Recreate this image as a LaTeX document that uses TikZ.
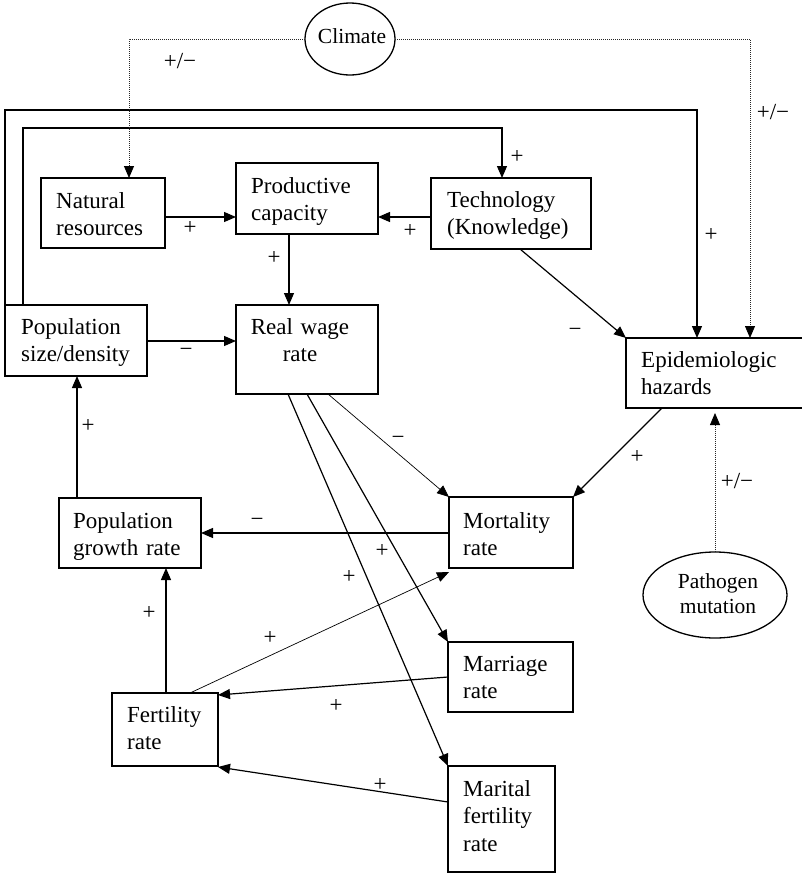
\documentclass[tikz,border=0pt]{standalone}
\usepackage{fontspec}
\setmainfont{Liberation Serif}
\usetikzlibrary{arrows.meta,calc,shapes.geometric}
\begin{document}
\begin{tikzpicture}[x=1pt,y=-1pt,
  box/.style={draw, line width=1.3pt, inner sep=0pt, outer sep=0pt, anchor=north west},
  txt/.style={inner sep=0pt, anchor=base west, align=left, text width=160pt, font=\fontsize{23}{27.5}\selectfont},
  lab/.style={inner sep=0pt, font=\fontsize{23}{27.5}\selectfont},
  arr/.style={line width=1.2pt, -{Triangle[length=12pt,width=10pt]}},
  thinarr/.style={line width=0.7pt, -{Triangle[length=12pt,width=10pt]}},
  dotarr/.style={line width=0.8pt, black!85, dash pattern=on 0.8pt off 1.2pt, -{Triangle[length=12pt,width=10pt,color=black]}},
  ell/.style={draw, ellipse, line width=1.3pt, inner sep=0pt, outer sep=0pt}
]
\useasboundingbox (0,0) rectangle (801,876);

% boxes
\node[box, minimum width=124pt, minimum height=70pt] (nr) at (41,178) {};
\node[box, minimum width=142pt, minimum height=71pt] (pc) at (236,163) {};
\node[box, minimum width=160pt, minimum height=71pt] (tech) at (431,178) {};
\node[box, minimum width=142pt, minimum height=71pt] (pop) at (5,305) {};
\node[box, minimum width=142pt, minimum height=89pt] (rw) at (236,305) {};
\node[box, minimum width=190pt, minimum height=70pt] (epi) at (626,338) {};
\node[box, minimum width=124pt, minimum height=71pt] (mort) at (449,497) {};
\node[box, minimum width=142pt, minimum height=70pt] (pg) at (59,498) {};
\node[box, minimum width=125pt, minimum height=70pt] (marr) at (448,642) {};
\node[box, minimum width=107pt, minimum height=106pt] (mar) at (448,766) {};
\node[box, minimum width=106pt, minimum height=73pt] (fert) at (112,693) {};
\node[ell, minimum width=90pt, minimum height=72pt] (clim) at (350,39) {};
\node[ell, minimum width=144pt, minimum height=86pt] (path) at (715,595) {};

% texts
\node[txt] (nr-t) at ($(nr.north west)+(15,30)$) {Natural\\resources};
\node[txt] (pc-t) at ($(pc.north west)+(15,30)$) {Productive\\capacity};
\node[txt] (tech-t) at ($(tech.north west)+(16,29)$) {Technology\\(Knowledge)};
\node[txt] (pop-t) at ($(pop.north west)+(16,29)$) {Population\\size/density};
\node[txt, anchor=base, align=center, text width=120pt] (rw-t) at ($(rw.north west)+(64,29)$) {Real wage\\rate};
\node[txt] (epi-t) at ($(epi.north west)+(15,29)$) {Epidemiologic\\hazards};
\node[txt] (mort-t) at ($(mort.north west)+(14,31)$) {Mortality\\rate};
\node[txt] (pg-t) at ($(pg.north west)+(14,30)$) {Population\\growth rate};
\node[txt] (marr-t) at ($(marr.north west)+(15,29)$) {Marriage\\rate};
\node[txt] (mar-t) at ($(mar.north west)+(15,30)$) {Marital\\fertility\\rate};
\node[txt] (fert-t) at ($(fert.north west)+(15,29)$) {Fertility\\rate};
\node[lab, anchor=base, font=\fontsize{21.5}{25}\selectfont] (clim-t) at ($(clim.center)+(2,4)$) {Climate};
\node[txt, anchor=base, align=center, text width=110pt, font=\fontsize{21.5}{25}\selectfont] (path-t) at ($(path.center)+(3,-7)$) {Pathogen\\mutation};

% connectors
\draw[arr] ($(nr.north east)+(0,39)$) -- ($(pc.north west)+(0,54)$);
\draw[arr] ($(tech.north west)+(0,39)$) -- ($(pc.north east)+(0,54)$);
\draw[arr] ($(pc.south west)+(53,0)$) -- ($(rw.north west)+(53,0)$);
\draw[arr] ($(pop.north east)+(0,36)$) -- ($(rw.north west)+(0,36)$);
\draw[arr] ($(tech.south west)+(89,0)$) -- (epi.north west);
\draw[arr] ($(epi.south west)+(36,0)$) -- (mort.north east);
\draw[dotarr] (path.north) -- ($(path.north |- epi.south)+(0,5)$);
\draw[thinarr] ($(rw.south west)+(92,0)$) -- (mort.north west);
\draw[arr] ($(rw.south west)+(71,0)$) -- (marr.north west);
\draw[arr] ($(rw.south west)+(52,0)$) -- (mar.north west);
\draw[arr] ($(mort.north west)+(0,36)$) -- ($(pg.north east)+(0,35)$);
\draw[arr] ($(pg.north west)+(18,0)$) -- ($(pop.south west)+(72,0)$);
\draw[arr] ($(fert.north west)+(54,0)$) -- ($(pg.south west)+(107,0)$);
\draw[thinarr] ($(fert.north west)+(78,0)$) -- ($(mort.south west)+(0,4)$);
\draw[arr] ($(marr.north west)+(0,35)$) -- ($(fert.north east)+(0,2)$);
\draw[arr] ($(mar.north west)+(0,36)$) -- ($(fert.south east)+(0,1)$);
\draw[arr] (pop.north west) -- ++(0,-195) -| ($(epi.north west)+(71,0)$);
\draw[arr] ($(pop.north west)+(18,0)$) -- ++(0,-177) -| ($(tech.north west)+(71,0)$);
\draw[dotarr] (clim.west) -| ($(nr.north west)+(88,0)$);
\draw[dotarr] (clim.east) -| ($(epi.north west)+(124,0)$);

% labels
\node[lab] (l1) at (180,61) {+/−};
\node[lab] (l2) at (773,112) {+/−};
\node[lab] (l3) at (517,157) {+};
\node[lab] (l4) at (711,235) {+};
\node[lab] (l5) at (190,228) {+};
\node[lab] (l6) at (410,231) {+};
\node[lab] (l7) at (274,258) {+};
\node[lab] (l8) at (186,352) {−};
\node[lab] (l9) at (575,332) {−};
\node[lab] (l10) at (637,457) {+};
\node[lab] (l11) at (737,481) {+/−};
\node[lab] (l12) at (398,440) {−};
\node[lab] (l13) at (88,426) {+};
\node[lab] (l14) at (257,522) {−};
\node[lab] (l15) at (382,551) {+};
\node[lab] (l16) at (349,577) {+};
\node[lab] (l17) at (149,613) {+};
\node[lab] (l18) at (270,638) {+};
\node[lab] (l19) at (336,706) {+};
\node[lab] (l20) at (380,785) {+};
\end{tikzpicture}
\end{document}
